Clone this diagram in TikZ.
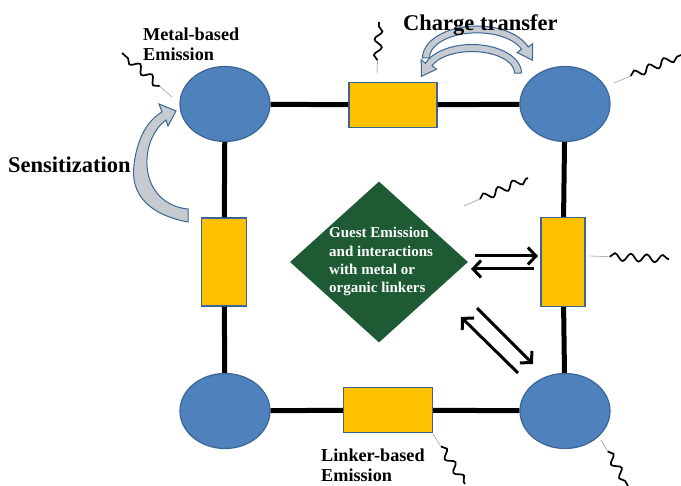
\documentclass[tikz,border=0pt]{standalone}
\usepackage{fontspec}
\setmainfont{Liberation Serif}
\usetikzlibrary{arrows.meta,decorations.pathmorphing,shapes.geometric,calc}
\definecolor{cblue}{HTML}{4F81BD}
\definecolor{cedge}{HTML}{3A6594}
\definecolor{cgold}{HTML}{FFC000}
\definecolor{cgreen}{HTML}{1E5B34}
\definecolor{cgray}{HTML}{C6CBD1}
\begin{document}
\begin{tikzpicture}[x=1pt,y=-1pt,
  metal/.style={ellipse, draw=cedge, line width=1.2pt, fill=cblue, minimum width=90pt, minimum height=75pt, inner sep=0pt},
  linker/.style={rectangle, draw=cedge, line width=1.2pt, fill=cgold, inner sep=0pt},
  bond/.style={line width=5pt, black},
  lbl/.style={font=\fontsize{18.2}{20.8}\selectfont\bfseries, align=left, anchor=base west, inner sep=0pt},
  biglbl/.style={font=\fontsize{22.5}{26}\selectfont\bfseries, anchor=base west, inner sep=0pt},
  rarrow/.style={line width=3pt, -{Straight Barb[length=8pt,width=17pt]}},
  blockarrow/.style={fill=cgray, draw=cedge, line width=1pt},
  tail/.style={gray!60, line width=0.8pt},
  squig/.style={black, line width=1.7pt, decorate, decoration={snake, amplitude=3.8pt, segment length=16pt}}
]
\useasboundingbox (0,0) rectangle (681,486);
% nodes
\node[metal] (m1) at (225,104) {};
\node[metal] (m2) at (565,104) {};
\node[metal] (m3) at (225,411) {};
\node[metal] (m4) at (565,411) {};
\node[linker, minimum width=88pt, minimum height=45pt] (lt) at (393,105) {};
\node[linker, minimum width=45pt, minimum height=88pt] (ll) at (224,262) {};
\node[linker, minimum width=44pt, minimum height=89pt] (lr) at (563,262) {};
\node[linker, minimum width=89pt, minimum height=45pt] (lb) at (388,410) {};
% bonds
\draw[bond] (m1) -- (lt);
\draw[bond] (lt) -- (m2);
\draw[bond] (m1) -- (ll);
\draw[bond] (ll) -- (m3);
\draw[bond] (m2) -- (lr);
\draw[bond] (lr) -- (m4);
\draw[bond] (m3) -- (lb);
\draw[bond] (lb) -- (m4);
% guest diamond
\node[diamond, fill=cgreen, minimum width=178pt, minimum height=161pt, inner sep=0pt] (g) at (379,262) {};
\node[font=\fontsize{15}{18.4}\selectfont\bfseries, text=white, align=left, inner sep=0pt, anchor=base west] (gt) at (329,293)
  {Guest Emission\\and interactions\\with metal or\\organic linkers};
% reversible arrows
\coordinate (a1s) at (475,256); \coordinate (a1e) at (538,256);
\coordinate (a2s) at (534,269); \coordinate (a2e) at (471,269);
\coordinate (a3s) at (477,308); \coordinate (a3e) at (533,364);
\coordinate (a4s) at (518,373); \coordinate (a4e) at (461,317);
\draw[rarrow] (a1s) -- (a1e);
\draw[rarrow] (a2s) -- (a2e);
\draw[rarrow] (a3s) -- (a3e);
\draw[rarrow] (a4s) -- (a4e);
% sensitization block arrow
\filldraw[blockarrow] (188,222) .. controls (150,215) and (130,195) .. (134,165)
  .. controls (137,138) and (148,120) .. (162,112) -- (159,104) -- (176,111) -- (168,126) -- (166,120)
  .. controls (155,128) and (146,145) .. (147,165) .. controls (148,190) and (165,207) .. (188,209) -- cycle;
% charge transfer block arrows
\filldraw[blockarrow] (422.5,58) arc[start angle=180,end angle=340,x radius=54.5,y radius=32]
  -- (532.7,43.6) -- (532.4,60.2) -- (517.1,52.6) -- (521.6,49.3)
  arc[start angle=340,end angle=180,x radius=47.5,y radius=25] -- cycle;
\filldraw[blockarrow] (521.5,73) arc[start angle=360,end angle=200,x radius=49.5,y radius=28.5]
  -- (421.2,59.8) -- (421.4,76.4) -- (436.4,69.2) -- (432.1,65.7)
  arc[start angle=200,end angle=360,x radius=42.5,y radius=21.5] -- cycle;
% labels
\node[biglbl] (sens) at (8,173) {Sensitization};
\node[biglbl] (ct) at (403,31) {Charge transfer};
\node[lbl] (mb) at (143,61) {Metal-based\\Emission};
\node[lbl] (lkb) at (321,482) {Linker-based\\Emission};
% emission squiggles: tail start (gray), wave end (black)
\coordinate (sa1) at (172,97);  \coordinate (sb1) at (122,53);
\coordinate (sa2) at (377,73);  \coordinate (sb2) at (379,22);
\coordinate (sa3) at (614,83);  \coordinate (sb3) at (681,55);
\coordinate (sa4) at (464,206); \coordinate (sb4) at (528,178);
\coordinate (sa5) at (590,256); \coordinate (sb5) at (669,259);
\coordinate (sa6) at (433,434); \coordinate (sb6) at (465,484);
\coordinate (sa7) at (601,440); \coordinate (sb7) at (628,486);
\foreach \i in {1,...,7}{
  \coordinate (sm\i) at ($(sa\i)!0.25!(sb\i)$);
  \draw[tail] (sa\i) -- (sm\i);
  \draw[squig] (sm\i) -- (sb\i);
}
\end{tikzpicture}
\end{document}
